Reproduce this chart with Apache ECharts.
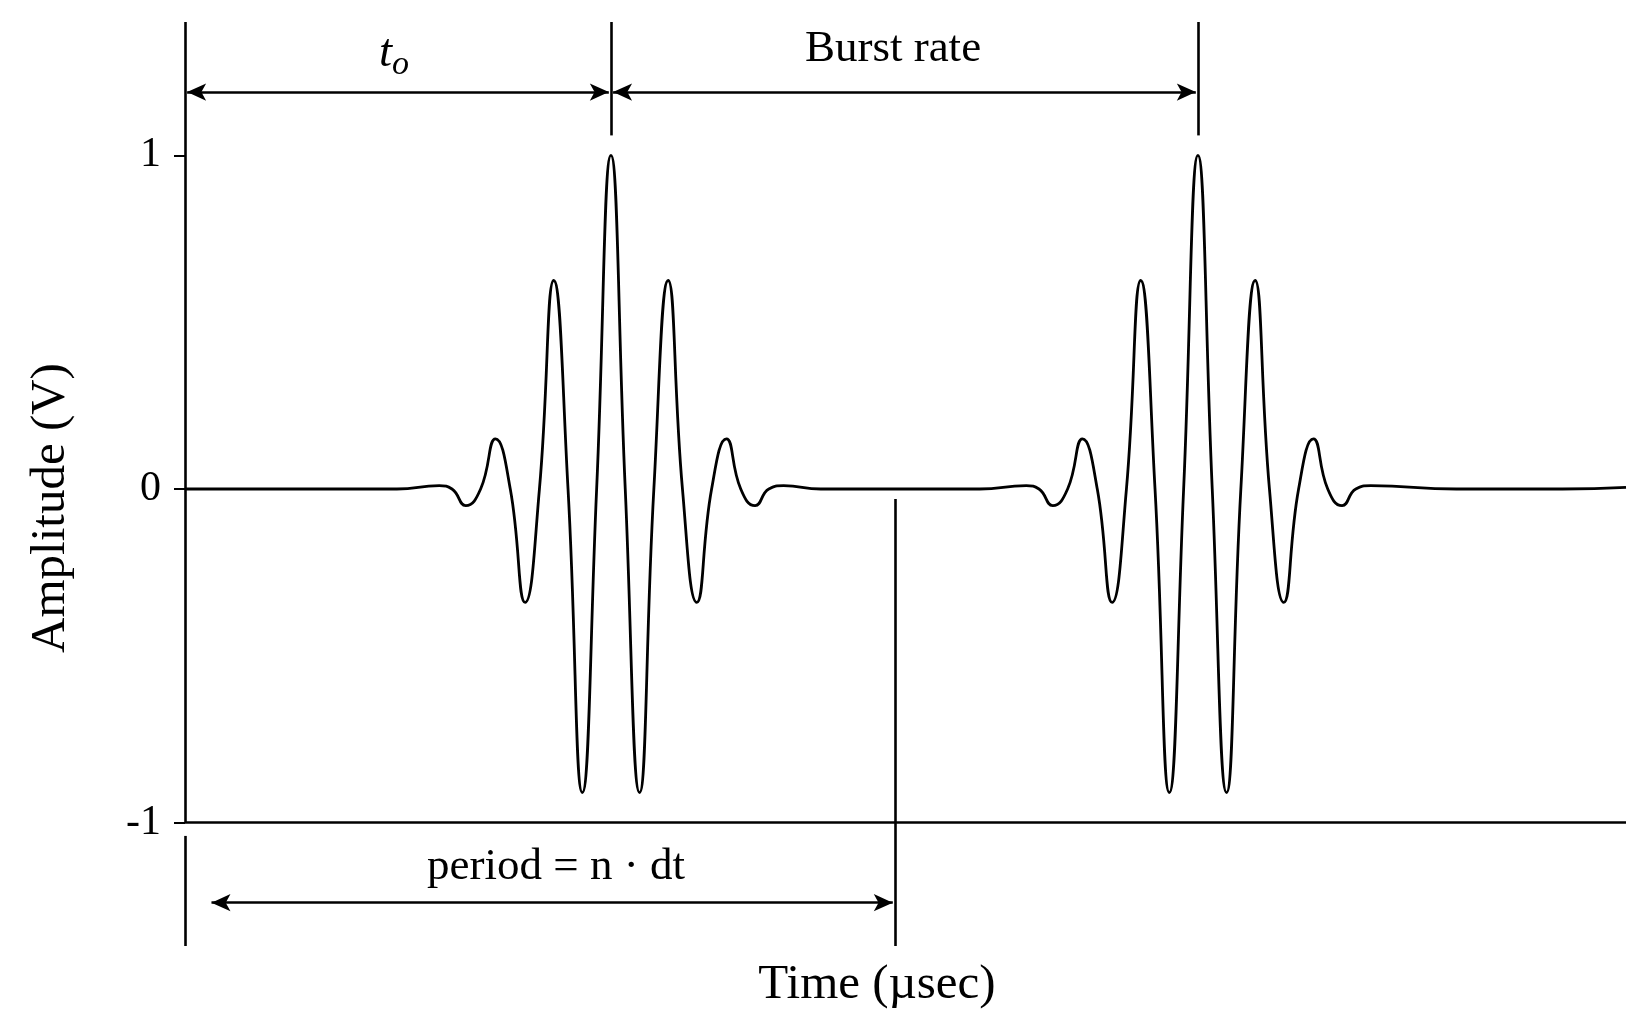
<!DOCTYPE html>
<html>
<head>
<meta charset="utf-8">
<script src="https://cdn.jsdelivr.net/npm/echarts@6/dist/echarts.min.js"></script>
<style>html,body{margin:0;background:#fff}#chart{width:1641px;height:1026px}</style>
</head>
<body>
<div id="chart"></div>
<script>
// time points (arbitrary units) and amplitudes
const timeVals = [0, 10, 20, 24.0, 25.2, 26.5, 27.9, 29.3, 30.7, 32.1, 33.45, 34.8, 36.15, 37.5, 38.85, 40.2,
  41.55, 42.9, 44.25, 45.6, 46.95, 48.3, 49.7, 51.1, 52.45, 53.8, 55.1, 56.5, 60, 67, 75,
  79.4, 80.6, 81.9, 83.3, 84.7, 86.1, 87.5, 88.85, 90.2, 91.55, 92.9, 94.25, 95.6,
  96.95, 98.3, 99.65, 101.0, 102.35, 103.7, 105.1, 106.5, 107.85, 109.2, 110.5, 111.9, 120, 130, 136];
const ampVals = [0, 0, 0, 0.01, 0, -0.05, 0, 0.15, 0, -0.34, 0, 0.625, 0, -0.91, 0, 1.0,
  0, -0.91, 0, 0.625, 0, -0.34, 0, 0.15, 0, -0.05, 0, 0.01, 0, 0, 0,
  0.01, 0, -0.05, 0, 0.15, 0, -0.34, 0, 0.625, 0, -0.91, 0, 1.0,
  0, -0.91, 0, 0.625, 0, -0.34, 0, 0.15, 0, -0.05, 0, 0.01, 0, 0, 0.005];
const yTicks = [-1, 0, 1];

const serif = '"Liberation Serif", "DejaVu Serif", serif';
const chart = echarts.init(document.getElementById('chart'));

const seg = (x1, y1, x2, y2, arrows) => [
  {coord: [x1, y1], symbol: arrows ? 'arrow' : 'none'},
  {coord: [x2, y2], symbol: arrows ? 'arrow' : 'none'}
];

chart.setOption({
  animation: false,
  grid: {left: 185, right: 15, top: 22, bottom: 80},
  xAxis: {
    type: 'value', min: 0, max: 136,
    axisLine: {show: false}, axisTick: {show: false}, axisLabel: {show: false}, splitLine: {show: false}
  },
  yAxis: {
    type: 'value', min: -1.37, max: 1.4,
    axisLine: {show: false},
    axisTick: {show: true, customValues: yTicks, length: 11, lineStyle: {color: '#000', width: 2}},
    axisLabel: {customValues: yTicks, fontFamily: serif, fontSize: 42, color: '#000', margin: 24},
    splitLine: {show: false}
  },
  series: [{
    type: 'line',
    data: timeVals.map((t, i) => [t, ampVals[i]]),
    smooth: 0.5,
    showSymbol: false,
    lineStyle: {color: '#000', width: 2.8},
    markLine: {
      silent: true,
      symbolSize: [13, 19],
      label: {show: false},
      lineStyle: {color: '#000', width: 2.6, type: 'solid'},
      data: [
        seg(0, 1.4, 0, -1, false),
        seg(0, -1.04, 0, -1.37, false),
        seg(0, -1, 136, -1, false),
        seg(40.2, 1.4, 40.2, 1.06, false),
        seg(95.6, 1.4, 95.6, 1.06, false),
        seg(67, -0.03, 67, -1.37, false),
        seg(0.2, 1.19, 40.0, 1.19, true),
        seg(40.4, 1.19, 95.4, 1.19, true),
        seg(2.5, -1.24, 66.8, -1.24, true)
      ]
    }
  }],
  graphic: [
    {type: 'text', left: 379, top: 30, style: {
      text: '{t|t}{o|o}', rich: {
        t: {fontFamily: serif, fontSize: 47, fontStyle: 'italic', fill: '#000'},
        o: {fontFamily: serif, fontSize: 34, fontStyle: 'italic', fill: '#000', padding: [24, 0, 0, 0]}
      }}},
    {type: 'text', x: 893, y: 49, style: {text: 'Burst rate', font: '45px ' + serif, fill: '#000', align: 'center', verticalAlign: 'middle'}},
    {type: 'text', x: 556, y: 867, style: {text: 'period = n · dt', font: '45px ' + serif, fill: '#000', align: 'center', verticalAlign: 'middle'}},
    {type: 'text', x: 877, y: 985, style: {text: 'Time (µsec)', font: '49px ' + serif, fill: '#000', align: 'center', verticalAlign: 'middle'}},
    {type: 'text', x: 51, y: 508, rotation: Math.PI / 2, style: {text: 'Amplitude (V)', font: '49px ' + serif, fill: '#000', align: 'center', verticalAlign: 'middle'}}
  ]
});
</script>
</body>
</html>
